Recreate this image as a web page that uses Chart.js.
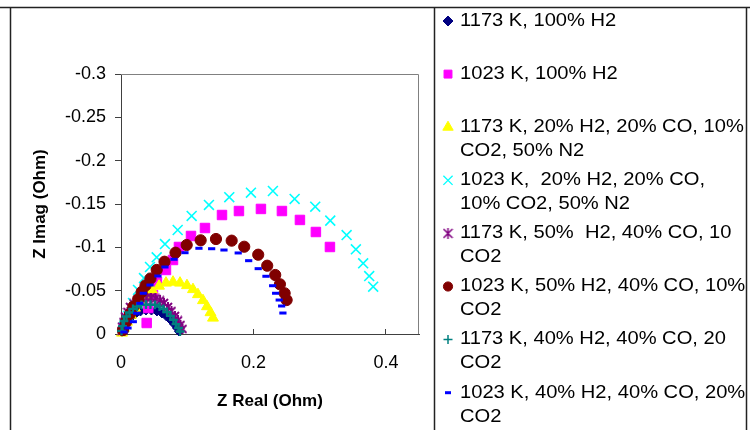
<!DOCTYPE html>
<html><head><meta charset="utf-8">
<script src="https://cdn.jsdelivr.net/npm/chart.js@4/dist/chart.umd.min.js"></script>
<style>html,body{margin:0;padding:0;background:#fff;}#wrap{width:750px;height:430px;}</style>
</head><body><div id="wrap"><canvas id="c" width="750" height="430"></canvas></div>
<script>
// ---- data (Z Real / Z Imag in Ohm) ----
const legendLines = [
  ["1173 K, 100% H2"],
  ["1023 K, 100% H2"],
  ["1173 K, 20% H2, 20% CO, 10%", "CO2, 50% N2"],
  ["1023 K,  20% H2, 20% CO,", "10% CO2, 50% N2"],
  ["1173 K, 50%  H2, 40% CO, 10", "CO2"],
  ["1023 K, 50% H2, 40% CO, 10%", "CO2"],
  ["1173 K, 40% H2, 40% CO, 20", "CO2"],
  ["1023 K, 40% H2, 40% CO, 20%", "CO2"]
];
const xTickValues = [0, 0.2, 0.4];
const xTickLabels = ["0", "0.2", "0.4"];
const yTickValues = [-0.3, -0.25, -0.2, -0.15, -0.1, -0.05, 0];
const yTickLabels = ["-0.3", "-0.25", "-0.2", "-0.15", "-0.1", "-0.05", "0"];

const k1173H2Re = [0.0015,0.0045,0.0091,0.0151,0.0219,0.0294,0.0377,0.046,0.0543,0.0619,0.0687,0.0747,0.08,0.0845,0.0875];
const k1173H2Im = [-0.0023,-0.0081,-0.0138,-0.019,-0.0231,-0.026,-0.0271,-0.0271,-0.026,-0.0237,-0.0202,-0.0162,-0.0115,-0.0069,-0.0029];

const k1023H2Re = [0.0388,0.0412,0.0483,0.0543,0.0679,0.0785,0.0875,0.1057,0.1268,0.1525,0.1781,0.2113,0.243,0.2702,0.2943,0.3155];
const k1023H2Im = [-0.0127,-0.03,-0.045,-0.06,-0.0739,-0.0854,-0.1004,-0.1131,-0.1223,-0.1373,-0.1419,-0.1443,-0.1419,-0.1316,-0.1177,-0.1004];

const k1173N2Re = [0.0015,0.0045,0.0091,0.0151,0.0211,0.0287,0.0377,0.0468,0.0574,0.0679,0.0785,0.0891,0.0996,0.1087,0.1162,0.1238,0.1298,0.1351,0.1389];
const k1173N2Im = [-0.0012,-0.0069,-0.0138,-0.0219,-0.03,-0.0381,-0.045,-0.0508,-0.0554,-0.0589,-0.06,-0.0589,-0.056,-0.0514,-0.0456,-0.0387,-0.0317,-0.0248,-0.0185];

const k1023N2Re = [0.0045,0.0106,0.0181,0.0257,0.0347,0.0438,0.0539,0.0664,0.0856,0.1067,0.1328,0.1635,0.1962,0.2294,0.2622,0.2933,0.316,0.3407,0.3547,0.3657,0.3748,0.3808];
const k1023N2Im = [-0.0081,-0.0208,-0.0358,-0.0508,-0.0646,-0.0773,-0.0885,-0.1038,-0.12,-0.1362,-0.1489,-0.1578,-0.1631,-0.165,-0.1558,-0.1469,-0.1308,-0.1142,-0.0977,-0.0816,-0.0669,-0.0546];

const k1173Co10Re = [0.0008,0.0015,0.0038,0.006,0.0098,0.0136,0.0189,0.0249,0.0317,0.0385,0.0453,0.0521,0.0589,0.0649,0.0709,0.0762,0.0815,0.086,0.0898,0.0928];
const k1173Co10Im = [-0.0035,-0.0084,-0.0138,-0.02,-0.0254,-0.0312,-0.0352,-0.0387,-0.041,-0.0421,-0.0421,-0.041,-0.0387,-0.0358,-0.0312,-0.0265,-0.0208,-0.0156,-0.0104,-0.0058];

const k1023Co10Re = [0.003,0.0075,0.0136,0.0186,0.0261,0.0312,0.037,0.0445,0.0539,0.0657,0.0823,0.0992,0.1203,0.1434,0.1671,0.1861,0.2072,0.2208,0.2329,0.24,0.2471,0.2501];
const k1023Co10Im = [-0.0046,-0.0138,-0.0231,-0.0315,-0.0404,-0.0485,-0.056,-0.064,-0.0739,-0.0834,-0.0938,-0.1027,-0.1081,-0.1096,-0.1077,-0.1007,-0.0915,-0.0788,-0.0681,-0.0574,-0.047,-0.0392];

const k1173Co20Re = [0.0008,0.0023,0.0045,0.0083,0.0128,0.0181,0.0242,0.0309,0.0377,0.0445,0.0513,0.0581,0.0642,0.0694,0.0747,0.0792,0.083,0.0868,0.0891];
const k1173Co20Im = [-0.0035,-0.0092,-0.015,-0.0202,-0.0248,-0.0289,-0.0317,-0.0335,-0.034,-0.034,-0.0335,-0.0317,-0.0289,-0.0254,-0.0208,-0.0162,-0.0115,-0.0069,-0.0029];

const k1023Co20Re = [0.0045,0.0106,0.0186,0.0237,0.0287,0.0337,0.0438,0.0558,0.0664,0.08,0.0966,0.1177,0.1369,0.1555,0.177,0.1928,0.2072,0.2189,0.229,0.2335,0.2389,0.2426,0.2445];
const k1023Co20Im = [-0.0023,-0.0069,-0.0142,-0.0239,-0.0354,-0.047,-0.0565,-0.0669,-0.0773,-0.0862,-0.0938,-0.0989,-0.0984,-0.0969,-0.0935,-0.0846,-0.0754,-0.0666,-0.0557,-0.047,-0.0392,-0.0323,-0.0242];

// ---- asterisk marker (Excel style: x with vertical bar) ----
function makeAsterisk(size, color, lw) {
  const c = document.createElement('canvas');
  c.width = size; c.height = size;
  const g = c.getContext('2d');
  g.strokeStyle = color; g.lineWidth = lw; g.lineCap = 'butt';
  const m = 1, s = size - 1;
  g.beginPath();
  g.moveTo(m, m); g.lineTo(s, s);
  g.moveTo(s, m); g.lineTo(m, s);
  g.moveTo(size / 2, 0); g.lineTo(size / 2, size);
  g.stroke();
  return c;
}
const asteriskBig = makeAsterisk(10, '#800080', 2);
const asteriskLegend = makeAsterisk(11, '#800080', 1.5);

const styles = [
  {color: '#000080', pointStyle: 'rectRot', radius: 4.5, borderWidth: 1, lg: {pointStyle: 'rectRot', radius: 5}},
  {color: '#FF00FF', pointStyle: 'rect', radius: 6.7, borderWidth: 1, lg: {pointStyle: 'rect', radius: 5.6}},
  {color: '#FFFF00', pointStyle: 'triangle', radius: 6.3, borderWidth: 1, lg: {pointStyle: 'triangle', radius: 6}},
  {color: '#00FFFF', pointStyle: 'crossRot', radius: 7, borderWidth: 1.6, lg: {pointStyle: 'crossRot', radius: 6.5, borderWidth: 1.3}},
  {color: '#800080', pointStyle: asteriskBig, radius: 5, borderWidth: 1, lg: {pointStyle: asteriskLegend, radius: 5.5}},
  {color: '#800000', pointStyle: 'circle', radius: 5.6, borderWidth: 1, lg: {pointStyle: 'circle', radius: 4.6}},
  {color: '#008080', pointStyle: 'cross', radius: 4.4, borderWidth: 2.3, lg: {pointStyle: 'cross', radius: 4.5, borderWidth: 1.5}},
  {color: '#0000FF', pointStyle: 'line', radius: 3.6, borderWidth: 3, lg: {pointStyle: 'line', radius: 3, borderWidth: 3}}
];

const seriesRe = [k1173H2Re, k1023H2Re, k1173N2Re, k1023N2Re, k1173Co10Re, k1023Co10Re, k1173Co20Re, k1023Co20Re];
const seriesIm = [k1173H2Im, k1023H2Im, k1173N2Im, k1023N2Im, k1173Co10Im, k1023Co10Im, k1173Co20Im, k1023Co20Im];

const datasets = seriesRe.map((re, i) => {
  const st = styles[i];
  return {
    label: legendLines[i].join(' '),
    data: re.map((x, j) => ({x: x, y: seriesIm[i][j]})),
    showLine: false,
    pointStyle: st.pointStyle,
    pointRadius: st.radius,
    pointHoverRadius: st.radius,
    pointBorderWidth: st.borderWidth,
    pointBackgroundColor: st.color,
    pointBorderColor: st.color,
    backgroundColor: st.color,
    borderColor: st.color,
    clip: false,
    order: 10 - i
  };
});

const FONT = '"Liberation Sans", Arial, sans-serif';

const framePlugin = {
  id: 'frameLegend',
  beforeDatasetsDraw(chart) {
    const ctx = chart.ctx, a = chart.chartArea;
    ctx.save();
    ctx.strokeStyle = '#808080';
    ctx.lineWidth = 1;
    ctx.beginPath();
    ctx.moveTo(a.left, a.top + 0.5);
    ctx.lineTo(a.right - 0.5, a.top + 0.5);
    ctx.lineTo(a.right - 0.5, a.bottom);
    ctx.stroke();
    ctx.restore();
  },
  afterDraw(chart) {
    const ctx = chart.ctx;
    ctx.save();
    ctx.strokeStyle = '#222';
    ctx.lineWidth = 1.5;
    ctx.beginPath();
    ctx.moveTo(0, 7.5); ctx.lineTo(750, 7.5);
    ctx.moveTo(10.5, 7.5); ctx.lineTo(10.5, 430);
    ctx.moveTo(434.5, 7.5); ctx.lineTo(434.5, 430);
    ctx.moveTo(746.5, 7.5); ctx.lineTo(746.5, 430);
    ctx.stroke();
    const dp = Chart.helpers && Chart.helpers.drawPoint;
    ctx.font = '17.5px ' + FONT;
    ctx.textAlign = 'left';
    ctx.textBaseline = 'middle';
    legendLines.forEach((lines, i) => {
      const y0 = 21 + i * 53.1;
      const st = styles[i];
      ctx.fillStyle = st.color;
      ctx.strokeStyle = st.color;
      ctx.lineWidth = st.lg.borderWidth || 1;
      if (dp) {
        dp(ctx, {pointStyle: st.lg.pointStyle, radius: st.lg.radius, rotation: 0, borderWidth: st.lg.borderWidth || 1}, 448, y0);
      }
      ctx.fillStyle = '#000';
      lines.forEach((t, k) => {
        ctx.save();
        ctx.translate(460, y0 + k * 24);
        ctx.scale(1.15, 1);
        ctx.fillText(t, 0, 0);
        ctx.restore();
      });
    });
    ctx.restore();
  }
};

new Chart(document.getElementById('c'), {
  type: 'scatter',
  data: {datasets: datasets},
  plugins: [framePlugin],
  options: {
    responsive: false,
    animation: false,
    devicePixelRatio: 1,
    layout: {padding: {top: 74, right: 331, left: 0, bottom: 0}},
    plugins: {legend: {display: false}, tooltip: {enabled: false}},
    scales: {
      x: {
        type: 'linear',
        min: 0, max: 0.45,
        afterBuildTicks: (s) => { s.ticks = xTickValues.map(v => ({value: v})); },
        afterFit: (s) => { s.height = 96; },
        ticks: {
          color: '#000', padding: 23, maxRotation: 0, autoSkip: false,
          font: {family: FONT, size: 18},
          callback: (v) => xTickLabels[xTickValues.findIndex(t => Math.abs(t - v) < 1e-9)]
        },
        grid: {display: true, drawOnChartArea: false, drawTicks: true, tickLength: -5, color: '#404040', lineWidth: 1},
        border: {display: true, color: '#404040', width: 1},
        title: {display: true, text: 'Z Real (Ohm)', color: '#000', font: {family: FONT, size: 17, weight: 'bold'}, padding: {top: 0, bottom: 18}}
      },
      y: {
        type: 'linear',
        min: -0.3, max: 0,
        reverse: true,
        afterBuildTicks: (s) => { s.ticks = yTickValues.map(v => ({value: v})); },
        afterFit: (s) => { s.width = 121; },
        ticks: {
          color: '#000', padding: 9, autoSkip: false,
          font: {family: FONT, size: 18},
          callback: (v) => yTickLabels[yTickValues.findIndex(t => Math.abs(t - v) < 1e-9)]
        },
        grid: {display: true, drawOnChartArea: false, drawTicks: true, tickLength: 6, color: '#404040', lineWidth: 1},
        border: {display: true, color: '#404040', width: 1},
        title: {display: true, text: 'Z Imag (Ohm)', color: '#000', font: {family: FONT, size: 17, weight: 'bold'}, padding: {top: 30, bottom: 0}}
      }
    }
  }
});
</script>
</body></html>
